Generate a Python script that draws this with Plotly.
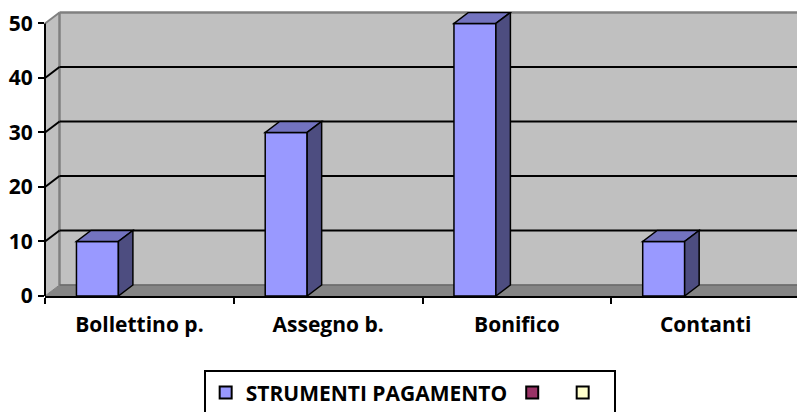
import plotly.graph_objects as go

# ---------------- data ----------------
categories = ["Bollettino p.", "Assegno b.", "Bonifico", "Contanti"]
strumenti_values = [10, 30, 50, 10]
series2_values = [None, None, None, None]
series3_values = [None, None, None, None]
series_names = ["STRUMENTI PAGAMENTO", " ", " "]
y_tick_values = [0, 10, 20, 30, 40, 50]

# ---------------- styling / geometry ----------------
# the page body adds an 8px offset, so the figure is 8px smaller than the window
PAGE_OFFSET = 8
W, H = 805 - PAGE_OFFSET, 412 - PAGE_OFFSET
ML, MR, MT, MB = 45 - PAGE_OFFSET, 5, 12 - PAGE_OFFSET, 116
PW = W - ML - MR
PH = H - MT - MB
YMAX = 52.1
DEPTH_X_PX = 14.5
DEPTH_Y_PX = 11.0
BARGAP = 1 / 3
front_colors = ["#9999FF", "#993366", "#FFFFCC"]
top_color = "#7373BF"
side_color = "#4D4D80"
wall_color = "#C0C0C0"
floor_color = "#858585"
edge_gray = "#808080"
FONT = "Open Sans"
FSIZE = 21

all_series = [strumenti_values, series2_values, series3_values]
n_series = len(all_series)
bw = (1 - BARGAP) / n_series
offsets = [-(1 - BARGAP) / 2 + k * bw for k in range(n_series)]

x_unit_px = PW / len(categories)
y_unit_px = PH / YMAX
ddx = DEPTH_X_PX / x_unit_px      # depth in x data units
ddy = DEPTH_Y_PX / y_unit_px      # depth in y data units
dxp = DEPTH_X_PX / PW             # depth in paper units
dyp = DEPTH_Y_PX / PH


def yp(v):
    return v / YMAX


fig = go.Figure()
for k, (vals, name) in enumerate(zip(all_series, series_names)):
    fig.add_trace(go.Bar(
        x=categories, y=vals, name=name,
        width=bw, offset=offsets[k],
        marker=dict(color=front_colors[k], line=dict(color="black", width=1.5)),
        showlegend=True,
    ))

shapes = []
top_val = max(y_tick_values)
# left side wall
shapes.append(dict(type="path", xref="paper", yref="paper", layer="below",
                   path=f"M0,0 L0,{yp(top_val)} L{dxp},{yp(top_val)+dyp} L{dxp},{dyp} Z",
                   fillcolor=wall_color, line=dict(width=0)))
# back wall
shapes.append(dict(type="rect", xref="paper", yref="paper", layer="below",
                   x0=dxp, x1=1 + dxp, y0=dyp, y1=yp(top_val) + dyp,
                   fillcolor=wall_color, line=dict(width=0)))
# floor
shapes.append(dict(type="path", xref="paper", yref="paper", layer="below",
                   path=f"M0,0 L1,0 L{1+dxp},{dyp} L{dxp},{dyp} Z",
                   fillcolor=floor_color, line=dict(color=edge_gray, width=1)))
# wall edges
shapes.append(dict(type="line", xref="paper", yref="paper", layer="below",
                   x0=dxp, x1=1 + dxp, y0=yp(top_val) + dyp, y1=yp(top_val) + dyp,
                   line=dict(color=edge_gray, width=2.5)))
shapes.append(dict(type="line", xref="paper", yref="paper", layer="below",
                   x0=dxp, x1=dxp, y0=dyp, y1=yp(top_val) + dyp,
                   line=dict(color=edge_gray, width=2.5)))
shapes.append(dict(type="line", xref="paper", yref="paper", layer="below",
                   x0=0, x1=dxp, y0=yp(top_val), y1=yp(top_val) + dyp,
                   line=dict(color=edge_gray, width=2)))
shapes.append(dict(type="line", xref="paper", yref="paper", layer="below",
                   x0=dxp, x1=1 + dxp, y0=dyp, y1=dyp,
                   line=dict(color="#6A6A6A", width=1.5)))
# gridlines on back wall + diagonal connectors
for v in y_tick_values[1:-1]:
    shapes.append(dict(type="line", xref="paper", yref="paper", layer="below",
                       x0=dxp, x1=1 + dxp, y0=yp(v) + dyp, y1=yp(v) + dyp,
                       line=dict(color="black", width=2)))
    shapes.append(dict(type="line", xref="paper", yref="paper", layer="below",
                       x0=0, x1=dxp, y0=yp(v), y1=yp(v) + dyp,
                       line=dict(color="black", width=2)))
# front y axis line
shapes.append(dict(type="line", xref="paper", yref="paper", layer="above",
                   x0=0, x1=0, y0=0, y1=yp(top_val),
                   line=dict(color="black", width=2)))

# 3D faces of the bars
for i, v in enumerate(strumenti_values):
    x0 = i + offsets[0]
    x1 = x0 + bw
    shapes.append(dict(type="path", xref="x", yref="y", layer="above",
                       path=f"M{x0},{v} L{x1},{v} L{x1+ddx},{v+ddy} L{x0+ddx},{v+ddy} Z",
                       fillcolor=top_color, line=dict(color="black", width=1.5)))
    shapes.append(dict(type="path", xref="x", yref="y", layer="above",
                       path=f"M{x1},0 L{x1+ddx},{ddy} L{x1+ddx},{v+ddy} L{x1},{v} Z",
                       fillcolor=side_color, line=dict(color="black", width=1.5)))

tfont = dict(family=FONT, size=FSIZE, color="black", weight="bold")

fig.update_layout(
    width=W, height=H,
    margin=dict(l=ML, r=MR, t=MT, b=MB, pad=0, autoexpand=False),
    paper_bgcolor="white", plot_bgcolor="rgba(0,0,0,0)",
    barmode="group",
    shapes=shapes,
    font=tfont,
    legend=dict(orientation="h", x=0.483, xanchor="center", y=-0.262, yanchor="top",
                bordercolor="black", borderwidth=2, bgcolor="white",
                font=tfont, itemsizing="constant"),
    xaxis=dict(type="category", range=[-0.5, len(categories) - 0.5], automargin=False,
               showline=True, linecolor="black", linewidth=2,
               ticks="outside", tickson="boundaries", ticklen=6, tickwidth=2, tickcolor="black",
               showgrid=False, zeroline=False, ticklabelstandoff=9,
               tickfont=tfont),
    yaxis=dict(range=[0, YMAX], tickvals=y_tick_values, automargin=False,
               showline=False, ticks="outside", ticklen=6, tickwidth=2, tickcolor="black",
               showgrid=False, zeroline=False, ticklabelstandoff=1,
               tickfont=tfont),
)

fig.write_html("out.html")
